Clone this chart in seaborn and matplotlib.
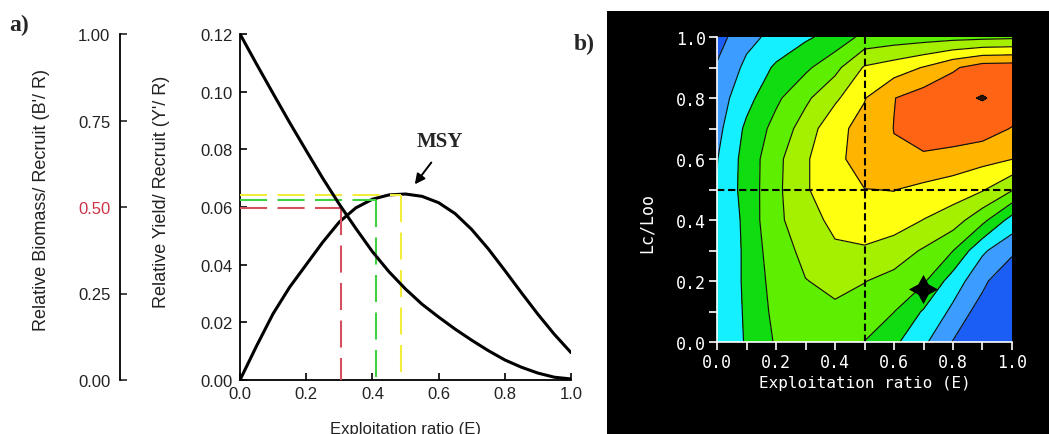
import numpy as np
import pandas as pd
import matplotlib
matplotlib.use("Agg")
import matplotlib.pyplot as plt
from matplotlib.patches import Rectangle
from matplotlib.ticker import MultipleLocator
import seaborn as sns

sns.set_theme(style="ticks")
plt.rcParams['font.family'] = ['Liberation Sans', 'DejaVu Sans']

"""DATA"""
# panel a: relative yield and biomass per recruit against exploitation ratio
E = [0.00, 0.05, 0.10, 0.15, 0.20, 0.25, 0.30, 0.35, 0.40, 0.45, 0.50,
     0.55, 0.60, 0.65, 0.70, 0.75, 0.80, 0.85, 0.90, 0.95, 1.00]
yield_per_recruit = [0.0, 0.0118, 0.0230, 0.0322, 0.0400, 0.0478, 0.0548, 0.0597,
                     0.0627, 0.0642, 0.0645, 0.0637, 0.0615, 0.0577, 0.0522, 0.0455,
                     0.0380, 0.0303, 0.0228, 0.0158, 0.0095]
biomass_per_recruit = [1.000, 0.913, 0.828, 0.744, 0.663, 0.583, 0.508, 0.438,
                       0.371, 0.313, 0.263, 0.219, 0.182, 0.147, 0.115, 0.085,
                       0.058, 0.037, 0.020, 0.008, 0.003]

# reference points E50 / E0.1 / Emax
ref_E = [0.306, 0.41, 0.486]
ref_Y = [0.0598, 0.0626, 0.0643]
ref_colors = ['#d4505f', '#3fd13f', '#f0ee3a']

msy_head = (0.523, 0.0671)
msy_tail = (0.583, 0.0762)

# panel b: yield isopleth (contour band index), rows by Lc/Loo
iso_E = [0.0, 0.1, 0.2, 0.3, 0.4, 0.5, 0.6, 0.7, 0.8, 0.9, 1.0]
iso_Lc = [0.0, 0.1, 0.2, 0.3, 0.4, 0.5, 0.6, 0.7, 0.8, 0.9, 1.0]
lc_00 = [2.1, 3.1, 4.1, 4.6, 4.8, 3.98, 3.2, 2.2, 0.95, 0.4, 0.0]
lc_01 = [2.1, 3.15, 4.28, 4.7, 4.9, 4.6, 4.02, 2.9, 1.78, 0.48, 0.0]
lc_02 = [2.1, 3.2, 4.43, 4.98, 5.15, 5.03, 4.7, 4.15, 2.5, 1.3, -0.2]
lc_03 = [2.1, 3.2, 4.65, 5.19, 5.7, 5.85, 5.5, 4.9, 4.02, 2.15, 1.3]
lc_04 = [2.1, 3.25, 4.92, 5.2, 6.5, 6.7, 6.5, 5.98, 5.5, 4.3, 2.6]
lc_05 = [2.08, 3.4, 4.75, 5.9, 6.6, 6.98, 7.03, 6.75, 6.5, 6.1, 5.1]
lc_06 = [1.96, 3.4, 4.7, 5.9, 6.6, 7.7, 7.9, 7.85, 7.6, 7.3, 7.02]
lc_07 = [1.7, 3.2, 4.34, 5.44, 6.75, 7.29, 8.02, 8.45, 8.6, 8.5, 7.95]
lc_08 = [1.5, 2.67, 3.8, 4.8, 5.8, 6.95, 7.97, 8.5, 8.8, 9.05, 8.7]
lc_09 = [1.1, 2.23, 3.15, 3.8, 4.7, 6.1, 6.5, 7.05, 7.85, 8.5, 8.56]
lc_10 = [0.6, 1.7, 2.3, 2.85, 3.35, 4.28, 4.45, 4.55, 4.65, 4.72, 4.8]

band_levels = [-1, 1, 2, 3, 4, 5, 6, 7, 8, 9, 10]
band_colors = ['#1b5ef5', '#3c9cff', '#14f0ff', '#10dd10', '#5eee00',
               '#a5ef00', '#ffff10', '#ffb400', '#ff6414', '#331100']
star_E, star_Lc = 0.70, 0.175


"""PLOTTING"""
W, H = 1049, 435
fig = plt.figure(figsize=(W / 100, H / 100), dpi=100)
serif = ['Liberation Serif', 'DejaVu Serif']
mono = ['DejaVu Sans Mono']

# black frame behind panel b
fig.add_artist(Rectangle((607 / W, 0), 1 - 607 / W, (H - 12) / H,
                         transform=fig.transFigure, facecolor='black',
                         edgecolor='none', zorder=-1))

df = pd.DataFrame({'E': E, 'yield': yield_per_recruit, 'biomass': biomass_per_recruit})

ax = fig.add_axes([240 / W, (H - 381) / H, 331 / W, 346 / H])
ax.set_facecolor('white')
sns.lineplot(data=df, x='E', y='yield', ax=ax, color='black', linewidth=2.2)

for e, y, c in zip(ref_E, ref_Y, ref_colors):
    ax.plot([0, e], [y, y], color=c, lw=1.5, ls=(0, (13, 5)), zorder=3 + y)
    ax.plot([e, e], [y, 0], color=c, lw=1.5, ls=(0, (13, 5)), zorder=3 + y)

ax.annotate('', xy=msy_head, xytext=msy_tail,
            arrowprops=dict(arrowstyle='-|>', color='black', lw=1.4, mutation_scale=15))
ax.text(0.604, 0.0828, 'MSY', ha='center', va='center', fontsize=15,
        fontweight='bold', family=serif)

ax.set_xlim(0, 1)
ax.set_ylim(0, 0.12)
ax.set_xticks([0, 0.2, 0.4, 0.6, 0.8, 1.0])
ax.set_xticklabels(['0.0', '0.2', '0.4', '0.6', '0.8', '1.0'])
ax.set_yticks([0, 0.02, 0.04, 0.06, 0.08, 0.10, 0.12])
ax.set_yticklabels(['0.00', '0.02', '0.04', '0.06', '0.08', '0.10', '0.12'])
ax.tick_params(direction='in', length=5, width=1.2, colors='black',
               labelcolor='#222222', labelsize=12, pad=5)
ax.tick_params(axis='x', pad=4)
for s in ['top', 'right']:
    ax.spines[s].set_visible(False)
for s in ['left', 'bottom']:
    ax.spines[s].set_color('black')
    ax.spines[s].set_linewidth(1.3)
ax.set_xlabel('Exploitation ratio (E)', fontsize=12, color='#222222', va='top')
ax.xaxis.set_label_coords(0.5, -0.118)
ax.set_ylabel("Relative Yield/ Recruit (Y'/ R)", fontsize=13, color='#222222')
ax.yaxis.set_label_coords(-0.212, 0.546)

# biomass axis on the far left
axB = ax.twinx()
sns.lineplot(data=df, x='E', y='biomass', ax=axB, color='black', linewidth=2.2)
axB.set_ylim(0, 1)
axB.set_xlim(0, 1)
axB.spines['right'].set_visible(False)
axB.spines['top'].set_visible(False)
axB.spines['bottom'].set_visible(False)
axB.spines['left'].set_position(('axes', -0.3625))
axB.spines['left'].set_color('black')
axB.spines['left'].set_linewidth(1.3)
axB.yaxis.set_ticks_position('left')
axB.yaxis.set_label_position('left')
axB.set_yticks([0, 0.25, 0.5, 0.75, 1.0])
axB.set_yticklabels(['0.00', '0.25', '0.50', '0.75', '1.00'])
axB.tick_params(axis='y', direction='in', length=5, width=1.2, labelsize=12,
                labelcolor='#222222', pad=7)
axB.get_yticklabels()[2].set_color('#cc3344')
axB.set_ylabel("Relative Biomass/ Recruit (B'/ R)", fontsize=13, color='#222222')
axB.yaxis.set_label_coords(-0.575, 0.523)

# panel b: yield isopleth
Z = np.array([lc_00, lc_01, lc_02, lc_03, lc_04, lc_05,
              lc_06, lc_07, lc_08, lc_09, lc_10])
axb = fig.add_axes([717 / W, (H - 343) / H, 295 / W, 305 / H])
axb.contourf(iso_E, iso_Lc, Z, levels=band_levels, colors=band_colors)
axb.contour(iso_E, iso_Lc, Z, levels=band_levels[1:-1], colors='#111111', linewidths=0.85)
axb.axvline(0.5, color='black', lw=1.5, ls=(0, (3.5, 1.8)))
axb.axhline(0.5, color='black', lw=1.5, ls=(0, (3.5, 1.8)))
axb.plot([star_E], [star_Lc], marker=(4, 1, 0), ms=21, color='black', mew=0)

axb.xaxis.set_minor_locator(MultipleLocator(0.1))
axb.yaxis.set_minor_locator(MultipleLocator(0.1))
axb.set_xlim(0, 1)
axb.set_ylim(0, 1)
ticks = [0.0, 0.2, 0.4, 0.6, 0.8, 1.0]
axb.set_xticks(ticks)
axb.set_yticks(ticks)
axb.set_xticklabels(['%.1f' % v for v in ticks], family=mono)
axb.set_yticklabels(['%.1f' % v for v in ticks], family=mono)
axb.tick_params(which='both', direction='out', length=6, width=1.2, colors='white',
                labelsize=12, pad=2)
for s in ['top', 'right']:
    axb.spines[s].set_visible(False)
for s in ['left', 'bottom']:
    axb.spines[s].set_color('white')
    axb.spines[s].set_linewidth(1.2)
axb.set_xlabel('Exploitation ratio (E)', fontsize=11.5, color='white', family=mono, va='top')
axb.xaxis.set_label_coords(0.5, -0.108)
axb.set_ylabel('Lc/Loo', fontsize=12, color='white', family=mono)
axb.yaxis.set_label_coords(-0.207, 0.393)

fig.text(9 / W, 1 - 25 / H, 'a)', fontsize=17, fontweight='bold', va='center',
         family=serif)
fig.text(574 / W, 1 - 44 / H, 'b)', fontsize=17, fontweight='bold', va='center',
         family=serif)

fig.savefig('out.png', dpi=100, facecolor='white')
